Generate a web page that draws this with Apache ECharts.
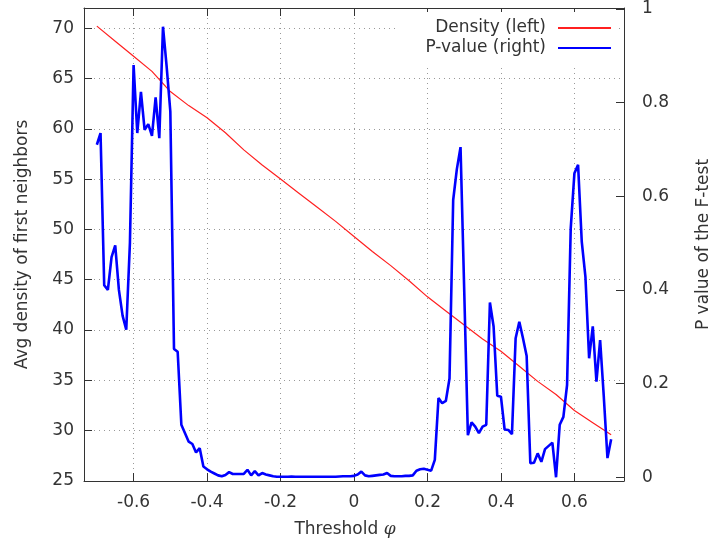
<!DOCTYPE html>
<html>
<head>
<meta charset="UTF-8">
<title>Density and P-value vs threshold</title>
<script src="https://cdn.jsdelivr.net/npm/echarts@6/dist/echarts.min.js"></script>
<style>
  html, body { margin: 0; padding: 0; background: #fff; }
  #main { width: 720px; height: 546px; }
</style>
</head>
<body>
<div id="main"></div>
<script>
// density of first neighbours (left axis)
var densityX = [-0.70, -0.65, -0.60, -0.55, -0.50, -0.45, -0.40, -0.35, -0.30, -0.25,
                -0.20, -0.15, -0.10, -0.05, 0.00, 0.05, 0.10, 0.15, 0.20, 0.25,
                0.30, 0.35, 0.40, 0.45, 0.50, 0.55, 0.60, 0.65, 0.70];
var densityY = [70.2, 68.7, 67.2, 65.7, 63.7, 62.3, 61.1, 59.6, 57.9, 56.4,
                55.0, 53.6, 52.2, 50.8, 49.3, 47.8, 46.4, 44.9, 43.3, 41.9,
                40.5, 39.1, 37.9, 36.4, 34.9, 33.6, 32.0, 30.8, 29.6];

// p-value of the F-test (right axis)
var thresholds = [-0.70, -0.69, -0.68, -0.67, -0.66, -0.65, -0.64, -0.63, -0.62, -0.61,
                  -0.60, -0.59, -0.58, -0.57, -0.56, -0.55, -0.54, -0.53, -0.52, -0.51,
                  -0.50, -0.49, -0.48, -0.47, -0.46, -0.45, -0.44, -0.43, -0.42, -0.41,
                  -0.40, -0.39, -0.38, -0.37, -0.36, -0.35, -0.34, -0.33, -0.32, -0.31,
                  -0.30, -0.29, -0.28, -0.27, -0.26, -0.25, -0.24, -0.23, -0.22, -0.21,
                  -0.20, -0.19, -0.18, -0.17, -0.16, -0.15, -0.14, -0.13, -0.12, -0.11,
                  -0.10, -0.09, -0.08, -0.07, -0.06, -0.05, -0.04, -0.03, -0.02, -0.01,
                  0.00, 0.01, 0.02, 0.03, 0.04, 0.05, 0.06, 0.07, 0.08, 0.09,
                  0.10, 0.11, 0.12, 0.13, 0.14, 0.15, 0.16, 0.17, 0.18, 0.19,
                  0.20, 0.21, 0.22, 0.23, 0.24, 0.25, 0.26, 0.27, 0.28, 0.29,
                  0.30, 0.31, 0.32, 0.33, 0.34, 0.35, 0.36, 0.37, 0.38, 0.39,
                  0.40, 0.41, 0.42, 0.43, 0.44, 0.45, 0.46, 0.47, 0.48, 0.49,
                  0.50, 0.51, 0.52, 0.53, 0.54, 0.55, 0.56, 0.57, 0.58, 0.59,
                  0.60, 0.61, 0.62, 0.63, 0.64, 0.65, 0.66, 0.67, 0.68, 0.69, 0.70];
var pValues = [0.71, 0.735, 0.41, 0.40, 0.47, 0.495, 0.40, 0.345, 0.315, 0.50,
               0.88, 0.735, 0.823, 0.742, 0.754, 0.729, 0.811, 0.724, 0.962, 0.877,
               0.781, 0.274, 0.268, 0.112, 0.094, 0.076, 0.071, 0.053, 0.062, 0.023,
               0.017, 0.012, 0.008, 0.004, 0.002, 0.005, 0.011, 0.007, 0.007, 0.007,
               0.007, 0.016, 0.004, 0.013, 0.004, 0.009, 0.006, 0.004, 0.002, 0.001,
               0.001, 0.001, 0.001, 0.0015, 0.001, 0.001, 0.001, 0.001, 0.0012, 0.001,
               0.001, 0.001, 0.001, 0.001, 0.001, 0.001, 0.0015, 0.002, 0.002, 0.002,
               0.003, 0.006, 0.012, 0.004, 0.002, 0.003, 0.004, 0.005, 0.006, 0.009,
               0.003, 0.002, 0.002, 0.002, 0.003, 0.003, 0.004, 0.014, 0.017, 0.018,
               0.016, 0.014, 0.037, 0.169, 0.158, 0.163, 0.211, 0.592, 0.658, 0.705,
               0.40, 0.09, 0.117, 0.108, 0.094, 0.108, 0.112, 0.373, 0.322, 0.174,
               0.172, 0.102, 0.101, 0.092, 0.297, 0.332, 0.297, 0.259, 0.030, 0.031,
               0.051, 0.033, 0.060, 0.067, 0.074, 0.0, 0.112, 0.129, 0.197, 0.532,
               0.649, 0.667, 0.503, 0.428, 0.254, 0.322, 0.204, 0.293, 0.172, 0.041, 0.081];

var xTicks = [-0.6, -0.4, -0.2, 0, 0.2, 0.4, 0.6];
var leftTicks = [25, 30, 35, 40, 45, 50, 55, 60, 65, 70];
var rightTicks = [0, 0.2, 0.4, 0.6, 0.8, 1];

var font = 'DejaVu Sans';
var textColor = '#333';
var frameColor = '#333';
var gridLine = { show: true, lineStyle: { color: '#999', width: 1, type: [1, 4] } };

var chart = echarts.init(document.getElementById('main'));

var option = {
    animation: false,
    backgroundColor: '#fff',
    grid: { left: 84, right: 88, top: 8, bottom: 65 },
    legend: {
        orient: 'vertical',
        right: 102,
        top: 12,
        align: 'right',
        itemWidth: 53,
        itemHeight: 10,
        itemGap: 0,
        padding: [6, 6, 6, 30],
        backgroundColor: '#fff',
        itemStyle: { opacity: 0 },
        textStyle: { fontFamily: font, fontSize: 17, color: textColor, lineHeight: 20, padding: [0, 7, 0, 0] },
        data: ['Density (left)', 'P-value (right)']
    },
    xAxis: [{
        type: 'value',
        position: 'bottom',
        min: -0.735,
        max: 0.735,
        name: 'Threshold {phi|φ}',
        nameLocation: 'middle',
        nameGap: 40,
        nameTextStyle: {
            fontFamily: font, fontSize: 17, color: textColor,
            padding: [0, 18, 0, 0],
            rich: { phi: { fontFamily: 'DejaVu Serif', fontStyle: 'italic', fontSize: 17, color: textColor } }
        },
        axisLine: { show: true, onZero: false, lineStyle: { color: frameColor, width: 1 } },
        axisTick: { show: true, inside: true, length: 8, customValues: xTicks, lineStyle: { color: frameColor } },
        axisLabel: { customValues: xTicks, margin: 13, fontFamily: font, fontSize: 17, color: textColor },
        splitLine: gridLine
    }, {
        type: 'value',
        position: 'top',
        min: -0.735,
        max: 0.735,
        axisLine: { show: true, onZero: false, lineStyle: { color: frameColor, width: 1 } },
        axisTick: { show: true, inside: true, length: 8, customValues: xTicks, lineStyle: { color: frameColor } },
        axisLabel: { show: false },
        splitLine: { show: false }
    }],
    yAxis: [{
        type: 'value',
        position: 'left',
        min: 25,
        max: 72,
        name: 'Avg density of first neighbors',
        nameLocation: 'middle',
        nameGap: 53,
        nameRotate: 90,
        nameTextStyle: { fontFamily: font, fontSize: 17, color: textColor },
        axisLine: { show: true, onZero: false, lineStyle: { color: frameColor, width: 1 } },
        axisTick: { show: true, inside: true, length: 8, customValues: leftTicks, lineStyle: { color: frameColor } },
        axisLabel: { customValues: leftTicks, margin: 10, fontFamily: font, fontSize: 17, color: textColor },
        splitLine: gridLine
    }, {
        type: 'value',
        position: 'right',
        min: -0.008,
        max: 1.002,
        name: 'P value of the F-test',
        nameLocation: 'middle',
        nameGap: 71,
        nameRotate: 90,
        nameTextStyle: { fontFamily: font, fontSize: 17, color: textColor },
        axisLine: { show: true, onZero: false, lineStyle: { color: frameColor, width: 1 } },
        axisTick: { show: true, inside: true, length: 8, customValues: rightTicks, lineStyle: { color: frameColor } },
        axisLabel: { customValues: rightTicks, margin: 18, fontFamily: font, fontSize: 17, color: textColor },
        splitLine: { show: false }
    }],
    series: [{
        name: 'Density (left)',
        type: 'line',
        xAxisIndex: 0,
        yAxisIndex: 0,
        symbol: 'none',
        lineStyle: { color: '#ff2020', width: 1.2 },
        itemStyle: { color: '#ff2020' },
        data: densityX.map(function (x, i) { return [x, densityY[i]]; })
    }, {
        name: 'P-value (right)',
        type: 'line',
        xAxisIndex: 0,
        yAxisIndex: 1,
        symbol: 'none',
        lineStyle: { color: '#0000ff', width: 2.6 },
        itemStyle: { color: '#0000ff' },
        data: thresholds.map(function (x, i) { return [x, pValues[i]]; })
    }]
};

chart.setOption(option);
window.addEventListener('resize', function () {
    chart.resize();
});
</script>
</body>
</html>
